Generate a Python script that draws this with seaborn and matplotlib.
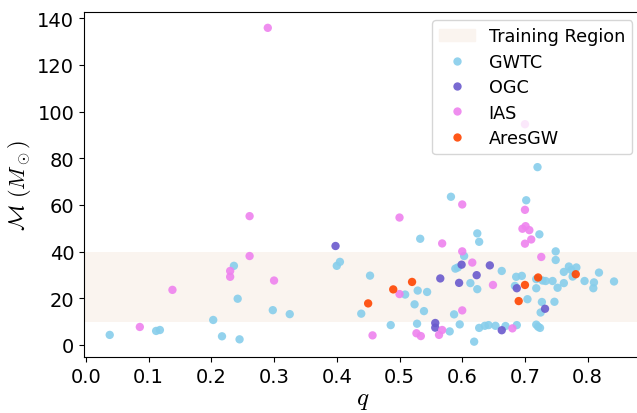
import matplotlib
matplotlib.use("Agg")
import matplotlib.pyplot as plt
import matplotlib.patches as mpatches
import numpy as np
import pandas as pd
import seaborn as sns

# Mass ratio q and chirp mass (solar masses) per catalogue
gwtc_q = [0.038, 0.112, 0.118, 0.203, 0.217, 0.245, 0.236, 0.242, 0.298, 0.325,
          0.400, 0.405, 0.439, 0.453, 0.486, 0.509, 0.524, 0.528, 0.529, 0.533,
          0.539, 0.544, 0.580, 0.582, 0.587, 0.589, 0.593, 0.596, 0.603, 0.613,
          0.619, 0.624, 0.624, 0.627, 0.627, 0.636, 0.642, 0.653, 0.663, 0.669,
          0.684, 0.686, 0.687, 0.695, 0.702, 0.704, 0.718, 0.718, 0.718, 0.720,
          0.721, 0.723, 0.724, 0.725, 0.727, 0.728, 0.733, 0.744, 0.747, 0.749,
          0.749, 0.752, 0.762, 0.762, 0.770, 0.774, 0.776, 0.782, 0.795, 0.809,
          0.810, 0.818, 0.842]
gwtc_m = [4.3, 6.0, 6.4, 10.7, 3.7, 2.4, 33.9, 19.8, 14.9, 13.2,
          33.9, 35.6, 13.4, 29.7, 8.5, 21.6, 17.4, 9.1, 23.3, 45.5,
          14.5, 22.7, 5.8, 63.5, 13.1, 32.7, 33.2, 8.8, 38.1, 26.5,
          1.4, 47.8, 23.9, 44.2, 7.3, 8.2, 8.5, 8.2, 31.7, 8.1,
          25.3, 29.2, 8.5, 29.6, 62.0, 19.6, 28.2, 24.3, 8.7, 76.2,
          7.8, 47.4, 7.3, 13.9, 18.4, 27.6, 27.4, 27.4, 18.5, 40.1,
          36.4, 24.5, 26.5, 31.3, 33.6, 32.1, 29.3, 33.2, 27.4, 24.3,
          26.8, 31.0, 27.2]

ogc_q = [0.398, 0.557, 0.557, 0.565, 0.595, 0.599, 0.623, 0.644, 0.663, 0.687, 0.732]
ogc_m = [42.4, 9.4, 7.4, 28.5, 26.6, 34.4, 29.9, 34.1, 6.3, 24.3, 15.5]

ias_q = [0.086, 0.138, 0.230, 0.230, 0.261, 0.261, 0.290, 0.300, 0.457, 0.500,
         0.500, 0.527, 0.534, 0.563, 0.568, 0.568, 0.600, 0.600, 0.600, 0.616,
         0.649, 0.680, 0.696, 0.700, 0.700, 0.700, 0.701, 0.707, 0.710, 0.726]
ias_m = [7.7, 23.6, 31.7, 29.2, 55.2, 38.1, 135.9, 27.6, 4.1, 54.6,
         21.8, 5.0, 3.8, 4.3, 6.4, 43.5, 60.2, 40.1, 14.8, 35.3,
         25.7, 7.1, 49.8, 94.6, 57.9, 43.4, 50.9, 49.2, 45.2, 37.7]

ares_q = [0.450, 0.490, 0.520, 0.690, 0.700, 0.721, 0.781]
ares_m = [17.8, 23.8, 27.0, 18.8, 25.7, 28.9, 30.3]

catalogues = ["GWTC", "OGC", "IAS", "AresGW"]
colours = {"GWTC": "#87CEEB", "OGC": "#6A5ACD", "IAS": "#EE82EE", "AresGW": "#FF4500"}
training_lo, training_hi = 10, 40

df = pd.concat([
    pd.DataFrame({"q": gwtc_q, "M": gwtc_m, "Catalogue": "GWTC"}),
    pd.DataFrame({"q": ogc_q, "M": ogc_m, "Catalogue": "OGC"}),
    pd.DataFrame({"q": ias_q, "M": ias_m, "Catalogue": "IAS"}),
    pd.DataFrame({"q": ares_q, "M": ares_m, "Catalogue": "AresGW"}),
], ignore_index=True)

sns.set_style("ticks", {"text.color": "black", "axes.labelcolor": "black",
                        "xtick.color": "black", "ytick.color": "black",
                        "axes.edgecolor": "black"})
plt.rcParams["font.family"] = ["DejaVu Sans"]
plt.rcParams["mathtext.fontset"] = "cm"

fig = plt.figure(figsize=(6.37, 4.14), dpi=100)
ax = fig.add_axes([84 / 637, 1 - 358.3 / 414, 557 / 637, (358.3 - 12.5) / 414])

ax.axhspan(training_lo, training_hi, color="#faf4ef", zorder=0, lw=0)

sns.scatterplot(data=df, x="q", y="M", hue="Catalogue", hue_order=catalogues,
                palette=colours, s=36, linewidth=0, alpha=0.9, ax=ax, zorder=2)

ax.set_xlim(-0.003, 0.885)
ax.set_ylim(-5.3, 142.9)
ax.set_xticks(np.arange(0, 0.81, 0.1))
ax.set_yticks(np.arange(0, 141, 20))
ax.tick_params(labelsize=14)
ax.set_xlabel(r"$q$", fontsize=18, labelpad=1)
ax.set_ylabel(r"$\mathcal{M}\ (M_\odot)$", fontsize=16, labelpad=3)

handles, labels = ax.get_legend_handles_labels()
band_handle = mpatches.Patch(color="#faf4ef", label="Training Region")
ax.legend([band_handle] + handles, ["Training Region"] + labels,
          loc="upper right", fontsize=12.7, labelspacing=0.42, framealpha=0.8)

fig.savefig("out.png", dpi=100)
